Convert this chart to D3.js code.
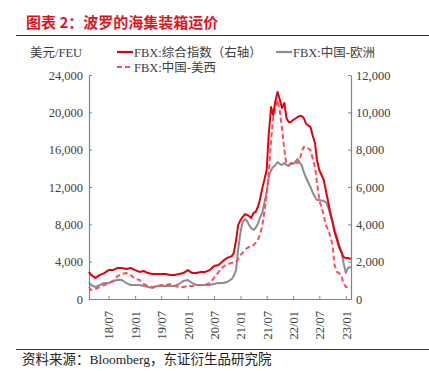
<!DOCTYPE html>
<html>
<head>
<meta charset="utf-8">
<script src="https://cdn.jsdelivr.net/npm/d3@7"></script>
<style>
  body { margin: 0; background: #fff; }
  svg text { font-family: "Liberation Serif", "Times New Roman", "Noto Sans CJK SC", serif; }
</style>
</head>
<body>
<div class="container"></div>
<script>
// dates of the sampled points (weekly series read off at roughly monthly / half-monthly steps)
var dates = [
  '2018-02-15','2018-03-01','2018-04-01','2018-05-01','2018-06-01','2018-07-01','2018-08-01','2018-09-01','2018-10-01','2018-11-01','2018-12-01',
  '2019-01-01','2019-02-01','2019-03-01','2019-04-01','2019-05-01','2019-06-01','2019-07-01','2019-08-01','2019-09-01','2019-10-01','2019-11-01','2019-12-01',
  '2020-01-01','2020-02-01','2020-03-01','2020-04-01','2020-05-01','2020-06-01','2020-07-01','2020-08-01','2020-09-01','2020-10-01','2020-11-01','2020-11-15','2020-12-01','2020-12-15',
  '2021-01-01','2021-01-15','2021-02-01','2021-02-15','2021-03-01','2021-03-15','2021-04-01','2021-04-15','2021-05-01','2021-05-15','2021-06-01','2021-06-15',
  '2021-07-01','2021-07-15','2021-08-01','2021-08-15','2021-09-01','2021-09-15','2021-10-01','2021-10-15','2021-11-01','2021-11-15','2021-12-01','2021-12-15',
  '2022-01-01','2022-02-01','2022-02-15','2022-03-01','2022-03-15','2022-04-01','2022-05-01','2022-05-15','2022-06-01','2022-06-15','2022-07-01',
  '2022-08-01','2022-08-15','2022-09-01','2022-09-15','2022-10-01','2022-10-15','2022-11-01','2022-11-15','2022-12-01','2022-12-15',
  '2023-01-01','2023-01-15','2023-02-05'
];

// FBX composite (right axis)
var fbxGlobal = [
  1450,1290,1130,1290,1390,1550,1550,1660,1660,1610,1660,
  1550,1450,1500,1390,1340,1340,1340,1340,1290,1290,1340,1390,
  1550,1390,1390,1450,1450,1550,1770,1820,2040,2200,2300,2460,3160,3960,
  4230,4390,4550,4500,4450,4340,4610,4660,4930,5300,5950,6375,
  6910,8785,10285,9857,10660,11090,10660,10230,10500,9700,9480,9480,
  9590,9750,9800,9800,9700,9375,9210,8785,8360,7450,6910,
  6375,5840,5200,4660,4125,3590,3160,2785,2520,2250,
  2200,2200,2140
];

// FBX China - Europe (left axis)
var fbxChinaEurope = [
  1820,1500,1290,1500,1710,1710,1930,2040,2040,1710,1500,
  1500,1500,1390,1290,1180,1390,1390,1390,1390,1390,1610,1930,
  2040,1710,1500,1500,1500,1500,1610,1710,1710,1820,2140,2460,3110,5250,
  7180,8250,8570,8360,7930,7610,7390,7610,8040,8680,9320,10290,
  11460,13070,13820,14140,14360,14680,14460,14360,14570,14360,14250,14570,
  14460,15000,14570,14360,13610,12960,12000,11460,10930,10610,10610,
  10500,10390,9860,9000,8250,7390,6640,5790,5140,3960,
  2790,3320,3430
];

// FBX China - US West Coast (left axis)
var fbxChinaUSWest = [
  1290,960,1070,1290,1500,1710,1930,2460,2680,2790,2570,
  2140,2040,1610,1390,1290,1390,1500,1500,1610,1390,1290,1290,
  1390,1390,1500,1500,1500,1710,2250,2890,3430,3750,3860,3960,3960,4290,
  4710,4930,5250,5460,5570,5570,5790,6000,6320,6860,7820,9320,
  11140,13290,17040,19390,20460,21320,20040,18320,15960,14570,14360,14460,
  14680,14570,14890,15750,16290,16290,15960,15110,14140,12540,10610,
  9000,7930,7390,6750,5790,3640,2890,2790,2570,1710,
  1290,1290,1290
];

var leftTicks = [0, 4000, 8000, 12000, 16000, 20000, 24000];
var rightTicks = [0, 2000, 4000, 6000, 8000, 10000, 12000];
var xTicks = ['2018-07-01','2019-01-01','2019-07-01','2020-01-01','2020-07-01','2021-01-01','2021-07-01','2022-01-01','2022-07-01','2023-01-01'];

var seriesNames = ['FBX:综合指数（右轴）', 'FBX:中国-欧洲', 'FBX:中国-美西'];

var width = 429, height = 371;
var parse = d3.utcParse('%Y-%m-%d');
var days = dates.map(parse);

var svg = d3.select('.container').append('svg')
    .attr('width', width)
    .attr('height', height);

var x = d3.scaleUtc()
    .domain([parse('2018-02-15'), parse('2023-02-06')])
    .range([89, 351]);
var yL = d3.scaleLinear().domain([0, 24000]).range([299, 75]);
var yR = d3.scaleLinear().domain([0, 12000]).range([299, 75]);

// ----------
// header / footer

svg.append('text')
    .attr('x', 26).attr('y', 28)
    .attr('fill', '#e0141e')
    .style('font-size', '15px')
    .style('font-weight', 'bold')
    .style('font-family', '"Noto Sans CJK SC", sans-serif')
    .text('图表 2：波罗的海集装箱运价');

svg.append('line')
    .attr('x1', 16).attr('x2', width).attr('y1', 35.5).attr('y2', 35.5)
    .attr('stroke', '#333').attr('stroke-width', 1);

svg.append('line')
    .attr('x1', 16).attr('x2', width).attr('y1', 349.5).attr('y2', 349.5)
    .attr('stroke', '#333').attr('stroke-width', 1);

svg.append('text')
    .attr('x', 22).attr('y', 364)
    .attr('fill', '#222')
    .style('font-size', '13.5px')
    .text('资料来源：Bloomberg，东证衍生品研究院');

svg.append('text')
    .attr('x', 30).attr('y', 57)
    .attr('fill', '#404040')
    .style('font-size', '12.5px')
    .text('美元/FEU');

// legend
var legend = [
  { name: seriesNames[0], color: '#e3000f', dash: null, x: 117, y: 52 },
  { name: seriesNames[1], color: '#8c8c8c', dash: null, x: 276, y: 52 },
  { name: seriesNames[2], color: '#ff4d5f', dash: '5,3', x: 117, y: 67 }
];
legend.forEach(function (d) {
  svg.append('line')
      .attr('x1', d.x).attr('x2', d.x + 16)
      .attr('y1', d.y).attr('y2', d.y)
      .attr('stroke', d.color).attr('stroke-width', 2.2)
      .attr('stroke-dasharray', d.dash);
  svg.append('text')
      .attr('x', d.x + 17).attr('y', d.y + 4.5)
      .attr('fill', '#404040')
      .style('font-size', '12.5px')
      .text(d.name);
});

// ----------
// axes

var axisColor = '#7a8a8a';

var gL = svg.append('g')
    .attr('transform', 'translate(89,0)')
    .call(d3.axisLeft(yL).tickValues(leftTicks).tickFormat(d3.format(',')).tickSize(-3).tickSizeOuter(0).tickPadding(6));

var gR = svg.append('g')
    .attr('transform', 'translate(351,0)')
    .call(d3.axisRight(yR).tickValues(rightTicks).tickFormat(d3.format(',')).tickSize(-3).tickSizeOuter(0).tickPadding(5));

var gX = svg.append('g')
    .attr('transform', 'translate(0,299)')
    .call(d3.axisBottom(x).tickValues(xTicks.map(parse)).tickFormat(d3.utcFormat('%y/%m')).tickSize(-3).tickSizeOuter(0));

gX.selectAll('text')
    .attr('transform', 'rotate(-90)')
    .attr('x', -12)
    .attr('y', 0)
    .attr('dy', '0.35em')
    .style('text-anchor', 'end');

[gL, gR, gX].forEach(function (g) {
  g.select('.domain').attr('stroke', axisColor).attr('stroke-width', 1.2);
  g.selectAll('.tick line').attr('stroke', axisColor);
  g.selectAll('.tick text')
      .attr('fill', '#404040')
      .style('font-size', '12.5px')
      .style('font-family', '"Liberation Serif", serif');
});

// ----------
// lines

function drawLine(values, y, color, dash) {
  var line = d3.line()
      .x(function (d, i) { return x(days[i]); })
      .y(function (d) { return y(d); });
  svg.append('path')
      .datum(values)
      .attr('fill', 'none')
      .attr('stroke', color)
      .attr('stroke-width', 2)
      .attr('stroke-linejoin', 'round')
      .attr('stroke-dasharray', dash)
      .attr('d', line);
}

drawLine(fbxChinaEurope, yL, '#8c8c8c', null);
drawLine(fbxChinaUSWest, yL, '#ff4d5f', '5,3');
drawLine(fbxGlobal, yR, '#e3000f', null);
</script>
</body>
</html>
